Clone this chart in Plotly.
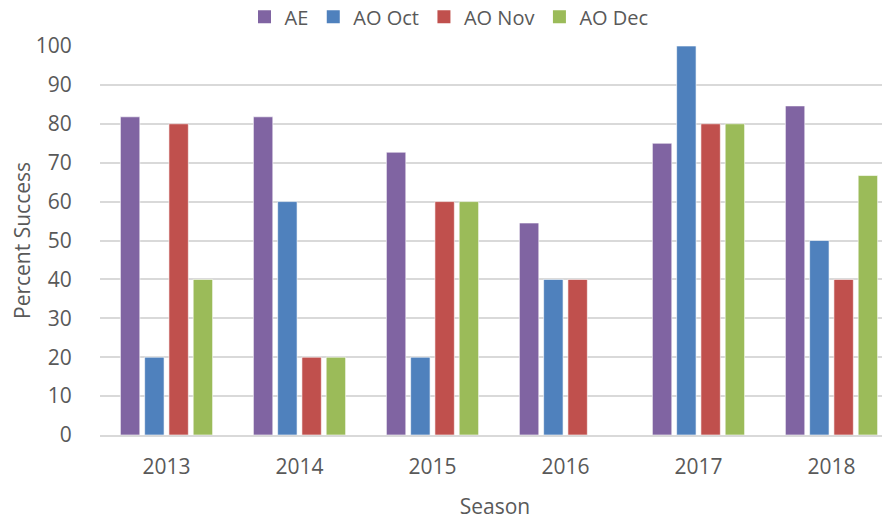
import plotly.graph_objects as go

seasons = ["2013", "2014", "2015", "2016", "2017", "2018"]
ae = [81.8, 81.8, 72.7, 54.5, 75.0, 84.6]
ao_oct = [20, 60, 20, 40, 100, 50]
ao_nov = [80, 20, 60, 40, 80, 40]
ao_dec = [40, 20, 60, None, 80, 66.7]

series = [
    ("AE", ae, "#8064A2"),
    ("AO Oct", ao_oct, "#4F81BD"),
    ("AO Nov", ao_nov, "#C0504D"),
    ("AO Dec", ao_dec, "#9BBB59"),
]

fig = go.Figure()
for name, vals, color in series:
    fig.add_trace(go.Bar(
        x=seasons, y=vals, name=name, showlegend=False, legendgroup=name,
        marker=dict(color=color, line=dict(color="rgba(255,255,255,0.6)", width=1)),
    ))
# legend entries with square swatches
for name, vals, color in series:
    fig.add_trace(go.Scatter(
        x=[None], y=[None], name=name, mode="markers", legendgroup=name,
        marker=dict(symbol="square", size=13, color=color),
    ))

font_family = "Open Sans, Liberation Sans, sans-serif"
txt = "#595959"

fig.update_layout(
    width=882, height=512,
    margin=dict(l=91.5, r=0, t=38.3, b=85.3, autoexpand=False),
    paper_bgcolor="white", plot_bgcolor="white",
    barmode="group", bargap=0.27, bargroupgap=0.2,
    font=dict(family=font_family, size=20, color=txt),
    legend=dict(
        orientation="h", xref="container", yref="container",
        x=0.5, xanchor="center", y=0.983, yanchor="middle",
        font=dict(size=20, color=txt), traceorder="normal",
        itemsizing="trace",
    ),
    xaxis=dict(
        type="category", range=[-0.5, 5.44], automargin=False,
        showgrid=False, showline=True, linecolor="#D9D9D9", linewidth=1.5,
        ticks="outside", ticklen=12, tickcolor="rgba(0,0,0,0)",
        tickfont=dict(size=21, color=txt),
        title=dict(text="Season", font=dict(size=21, color=txt), standoff=20),
    ),
    yaxis=dict(
        range=[0, 100], dtick=10, showgrid=True, gridcolor="#D9D9D9", gridwidth=1.5,
        zeroline=False, showline=False, automargin=False,
        ticks="outside", ticklen=23, tickcolor="rgba(0,0,0,0)",
        tickfont=dict(size=21, color=txt),
        title=dict(text="Percent Success", font=dict(size=21, color=txt), standoff=10),
    ),
)

fig.write_html("out.html")
